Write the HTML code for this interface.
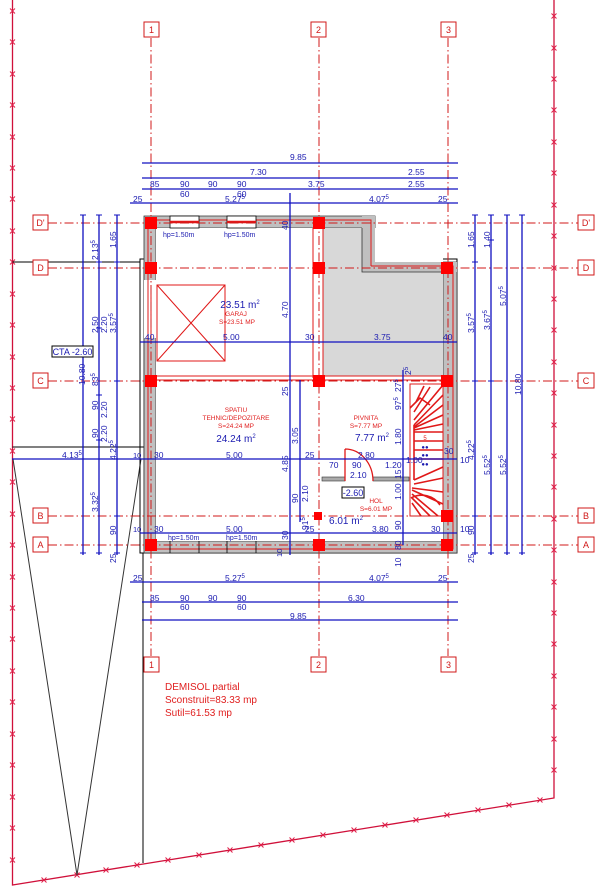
<!DOCTYPE html>
<html><head><meta charset="utf-8"><style>
html,body{margin:0;padding:0;background:#fff;}
svg{display:block;font-family:"Liberation Sans",sans-serif;}
.b{fill:#1a1ab0;font-size:8.5px;}
.bs{fill:#1a1ab0;font-size:7px;}
.r{fill:#e02020;}
.dl{stroke:#1010c0;stroke-width:1.3;fill:none;}
.g{stroke:#d01818;stroke-width:1;stroke-dasharray:9,3,1.5,3;fill:none;}
.ax{fill:#fff;stroke:#d01818;stroke-width:1;}
.axt{fill:#d01818;font-size:9px;text-anchor:middle;}
.pl{stroke:#d0103a;stroke-width:1.3;fill:none;}
.st{stroke:#e01818;stroke-width:1.6;fill:none;}
</style></head><body>
<svg width="603" height="889" viewBox="0 0 603 889">
<defs>
<g id="x"><path d="M-2.5,-2.5L2.5,2.5M2.5,-2.5L-2.5,2.5" stroke="#e0204a" stroke-width="1"/></g>
</defs>
<path class="pl" d="M12.5,0V885L554,798V0"/>
<g>
<use href="#x" x="12.5" y="11"/><use href="#x" x="12.5" y="42"/><use href="#x" x="12.5" y="74"/><use href="#x" x="12.5" y="105"/><use href="#x" x="12.5" y="137"/><use href="#x" x="12.5" y="168"/><use href="#x" x="12.5" y="199"/><use href="#x" x="12.5" y="231"/><use href="#x" x="12.5" y="262"/><use href="#x" x="12.5" y="294"/><use href="#x" x="12.5" y="325"/><use href="#x" x="12.5" y="357"/><use href="#x" x="12.5" y="388"/><use href="#x" x="12.5" y="419"/><use href="#x" x="12.5" y="451"/><use href="#x" x="12.5" y="482"/><use href="#x" x="12.5" y="514"/><use href="#x" x="12.5" y="545"/><use href="#x" x="12.5" y="577"/><use href="#x" x="12.5" y="608"/><use href="#x" x="12.5" y="639"/><use href="#x" x="12.5" y="671"/><use href="#x" x="12.5" y="702"/><use href="#x" x="12.5" y="734"/><use href="#x" x="12.5" y="765"/><use href="#x" x="12.5" y="797"/><use href="#x" x="12.5" y="828"/><use href="#x" x="12.5" y="860"/>
<use href="#x" x="554" y="16"/><use href="#x" x="554" y="48"/><use href="#x" x="554" y="79"/><use href="#x" x="554" y="110"/><use href="#x" x="554" y="142"/><use href="#x" x="554" y="173"/><use href="#x" x="554" y="205"/><use href="#x" x="554" y="236"/><use href="#x" x="554" y="268"/><use href="#x" x="554" y="299"/><use href="#x" x="554" y="330"/><use href="#x" x="554" y="362"/><use href="#x" x="554" y="393"/><use href="#x" x="554" y="425"/><use href="#x" x="554" y="456"/><use href="#x" x="554" y="487"/><use href="#x" x="554" y="519"/><use href="#x" x="554" y="550"/><use href="#x" x="554" y="582"/><use href="#x" x="554" y="613"/><use href="#x" x="554" y="644"/><use href="#x" x="554" y="676"/><use href="#x" x="554" y="707"/><use href="#x" x="554" y="739"/><use href="#x" x="554" y="770"/>
<use href="#x" x="44" y="880"/><use href="#x" x="77" y="875"/><use href="#x" x="106" y="870"/><use href="#x" x="137" y="865"/><use href="#x" x="168" y="860"/><use href="#x" x="199" y="855"/><use href="#x" x="230" y="850"/><use href="#x" x="261" y="845"/><use href="#x" x="292" y="840"/><use href="#x" x="323" y="835"/><use href="#x" x="354" y="830"/><use href="#x" x="385" y="825"/><use href="#x" x="416" y="820"/><use href="#x" x="447" y="815"/><use href="#x" x="478" y="810"/><use href="#x" x="509" y="805"/><use href="#x" x="540" y="800"/>
</g>
<g stroke="#000" stroke-width="1" fill="none">
<path d="M12.5,262H140M12.5,447H145V459M143,553V863"/>
<path d="M13,459L77,875L141,459" stroke="#333"/>
<rect x="140" y="259" width="317" height="294"/>
<rect x="144" y="263" width="309" height="286" stroke-width="0.7"/>
</g>
<g fill="#c0c0c0" stroke="#333" stroke-width="0.8">
<path d="M144,216H375V262H457V553H144ZM156,228V541H443V272H362V228Z" fill-rule="evenodd"/>
</g>
<rect x="156" y="228" width="287" height="313" fill="#fff"/>
<path d="M323,228H362V272H443V376H323Z" fill="#d8d8d8"/>
<rect x="362" y="216" width="13" height="56" fill="#c0c0c0"/>
<rect x="362" y="262" width="95" height="10" fill="#c0c0c0"/>
<path d="M362,228V272H443" stroke="#333" stroke-width="0.8" fill="none"/>
<rect x="144" y="280" width="12" height="58" fill="#fff"/>
<g stroke="#e01818" fill="none" stroke-width="1">
<path d="M148,220H371V266M148,220V549H453V266H371"/>
<path d="M151,285V337"/>
<path d="M313,228V378M323,228V378"/>
<path d="M156,376H443M156,380H443"/>
<rect x="157" y="285" width="68" height="76"/>
<path d="M157,285L225,361M225,285L157,361"/>
</g>
<g stroke="#000" stroke-width="0.8">
<rect x="170" y="216" width="29" height="12" fill="#fff"/>
<rect x="227" y="216" width="29" height="12" fill="#fff"/>
</g>
<path d="M170,222H199M227,222H256" stroke="#e01818" stroke-width="2.5"/>
<g stroke="#000" stroke-width="0.8"><path d="M170,541V553M199,541V553M227,541V553M256,541V553"/></g>
<rect x="322" y="477" width="23" height="4" fill="#aaa" stroke="#333" stroke-width="0.6"/>
<rect x="373" y="477" width="36" height="4" fill="#aaa" stroke="#333" stroke-width="0.6"/>
<path d="M345,449V481M373,481A28,32 0 0 0 345,449" stroke="#e01818" stroke-width="1.3" fill="none"/>
<g class="st">
<path d="M410,384H443V516H410Z" stroke-width="1"/>
<path d="M414,425V480"/>
<path d="M414,432H443M414,441H443M414,450H443M414,459H443"/>
<path d="M414,425L443,395M414,420L443,385M414,412L430,387M416,402L424,386M414,427L443,405M414,428L443,415M414,430L443,424"/>
<path d="M414,480L443,467M414,484L443,478M412,488L443,492M412,490L443,504M412,494L438,516M412,498L430,516M412,503L421,516"/>
<path d="M410,408L420,398L430,405"/>
<path d="M411,498A22,22 0 0 1 440,505"/>
</g>
<text class="r" x="425" y="440" font-size="6" text-anchor="middle">5</text>
<text x="425" y="449" font-size="6" fill="#1a1ab0" text-anchor="middle">●●</text>
<text x="425" y="457" font-size="6" fill="#1a1ab0" text-anchor="middle">●●</text>
<text x="425" y="466" font-size="6" fill="#1a1ab0" text-anchor="middle">●●</text>
<g class="g">
<path d="M151,38V656M319,38V656M448,38V656"/>
<path d="M48,223H578M48,268H578M48,381H578M48,516H578M48,545H578"/>
</g>
<g>
<rect class="ax" x="144" y="22" width="15" height="15"/><text class="axt" x="151.5" y="33">1</text>
<rect class="ax" x="311" y="22" width="15" height="15"/><text class="axt" x="318.5" y="33">2</text>
<rect class="ax" x="441" y="22" width="15" height="15"/><text class="axt" x="448.5" y="33">3</text>
<rect class="ax" x="144" y="657" width="15" height="15"/><text class="axt" x="151.5" y="668">1</text>
<rect class="ax" x="311" y="657" width="15" height="15"/><text class="axt" x="318.5" y="668">2</text>
<rect class="ax" x="441" y="657" width="15" height="15"/><text class="axt" x="448.5" y="668">3</text>
<rect class="ax" x="33" y="215" width="15" height="15"/><text class="axt" x="40.5" y="226">D'</text>
<rect class="ax" x="33" y="260" width="15" height="15"/><text class="axt" x="40.5" y="271">D</text>
<rect class="ax" x="33" y="373" width="15" height="15"/><text class="axt" x="40.5" y="384">C</text>
<rect class="ax" x="33" y="508" width="15" height="15"/><text class="axt" x="40.5" y="519">B</text>
<rect class="ax" x="33" y="537" width="15" height="15"/><text class="axt" x="40.5" y="548">A</text>
<rect class="ax" x="578" y="215" width="16" height="15"/><text class="axt" x="586" y="226">D'</text>
<rect class="ax" x="578" y="260" width="16" height="15"/><text class="axt" x="586" y="271">D</text>
<rect class="ax" x="578" y="373" width="16" height="15"/><text class="axt" x="586" y="384">C</text>
<rect class="ax" x="578" y="508" width="16" height="15"/><text class="axt" x="586" y="519">B</text>
<rect class="ax" x="578" y="537" width="16" height="15"/><text class="axt" x="586" y="548">A</text>
</g>
<g fill="#ff0000">
<rect x="145" y="217" width="12" height="12"/><rect x="313" y="217" width="12" height="12"/>
<rect x="145" y="262" width="12" height="12"/><rect x="313" y="262" width="12" height="12"/><rect x="441" y="262" width="12" height="12"/>
<rect x="145" y="375" width="12" height="12"/><rect x="313" y="375" width="12" height="12"/><rect x="441" y="375" width="12" height="12"/>
<rect x="441" y="510" width="12" height="12"/><rect x="314" y="512" width="8" height="8"/>
<rect x="145" y="539" width="12" height="12"/><rect x="313" y="539" width="12" height="12"/><rect x="441" y="539" width="12" height="12"/>
</g>
<g class="dl">
<path d="M142,163H458M142,178H458M142,189H458M130,203H458"/>
<path d="M130,582H458M142,602H458M142,620H458"/>
<path d="M140,342H457M12,459H457M140,533H457"/>
<path d="M83,215V555M99,215V555M117,215V555"/>
<path d="M475,215V555M491,215V555M507,215V555M522,215V555"/>
<path d="M290,193V555M300,380V522M403,370V545"/>
</g>
<g stroke="#1010c0" stroke-width="1">
<path d="M80,215H86M80,553H86M96,215H102M96,262H102M96,328H102M96,395H102M96,440H102M96,553H102M114,215H120M114,262H120M114,381H120M114,516H120M114,553H120"/>
<path d="M472,215H478M472,262H478M472,381H478M472,516H478M472,553H478M488,215H494M488,240H494M488,381H494M488,553H494M504,215H510M504,553H510M519,215H525M519,553H525"/>
</g>
<g class="b">
<text x="290" y="160">9.85</text>
<text x="250" y="175">7.30</text><text x="408" y="175">2.55</text>
<text x="150" y="187">85</text><text x="180" y="187">90</text><text x="208" y="187">90</text><text x="237" y="187">90</text>
<text x="180" y="197">60</text><text x="237" y="197">60</text>
<text x="308" y="187">3.75</text><text x="408" y="187">2.55</text>
<text x="133" y="202">25</text><text x="225" y="202">5.27<tspan font-size="6" dy="-3">5</tspan></text><text x="369" y="202">4.07<tspan font-size="6" dy="-3">5</tspan></text><text x="438" y="202">25</text>
<text x="133" y="581">25</text><text x="225" y="581">5.27<tspan font-size="6" dy="-3">5</tspan></text><text x="369" y="581">4.07<tspan font-size="6" dy="-3">5</tspan></text><text x="438" y="581">25</text>
<text x="150" y="601">85</text><text x="180" y="601">90</text><text x="208" y="601">90</text><text x="237" y="601">90</text><text x="348" y="601">6.30</text>
<text x="180" y="610">60</text><text x="237" y="610">60</text>
<text x="290" y="619">9.85</text>
<text x="145" y="340">40</text><text x="223" y="340">5.00</text><text x="305" y="340">30</text><text x="374" y="340">3.75</text><text x="443" y="340">40</text>
<text x="62" y="458">4.13<tspan font-size="6" dy="-3">5</tspan></text>
<text x="133" y="458" font-size="7.5">10</text><text x="154" y="458">30</text><text x="226" y="458">5.00</text><text x="305" y="458">25</text>
<text x="358" y="458">2.80</text><text x="406" y="463">1.00</text><text x="444" y="454">30</text><text x="460" y="463">10</text>
<text x="329" y="468">70</text><text x="352" y="468">90</text><text x="385" y="468">1.20</text><text x="350" y="478">2.10</text>
<text x="133" y="532" font-size="7.5">10</text><text x="154" y="532">30</text><text x="226" y="532">5.00</text><text x="305" y="532">25</text><text x="372" y="532">3.80</text><text x="431" y="532">30</text><text x="460" y="532">10</text>
</g>
<g class="bs">
<text x="163" y="237">hp=1.50m</text><text x="224" y="237">hp=1.50m</text>
<text x="168" y="540">hp=1.50m</text><text x="226" y="540">hp=1.50m</text>
</g>
<g class="b">
<text transform="translate(85,385) rotate(-90)">10.80</text>
<text transform="translate(98,260) rotate(-90)">2.13<tspan font-size="6" dy="-3">5</tspan></text>
<text transform="translate(98,333) rotate(-90)">2.50</text><text transform="translate(107,333) rotate(-90)">2.20</text>
<text transform="translate(98,386) rotate(-90)">83<tspan font-size="6" dy="-3">5</tspan></text>
<text transform="translate(98,410) rotate(-90)">90</text><text transform="translate(107,418) rotate(-90)">2.20</text>
<text transform="translate(98,438) rotate(-90)">90</text><text transform="translate(107,442) rotate(-90)">2.20</text>
<text transform="translate(98,512) rotate(-90)">3.32<tspan font-size="6" dy="-3">5</tspan></text>
<text transform="translate(116,248) rotate(-90)">1.65</text>
<text transform="translate(116,333) rotate(-90)">3.57<tspan font-size="6" dy="-3">5</tspan></text>
<text transform="translate(116,460) rotate(-90)">4.22<tspan font-size="6" dy="-3">5</tspan></text>
<text transform="translate(116,535) rotate(-90)">90</text><text transform="translate(116,563) rotate(-90)">25</text>
<text transform="translate(474,248) rotate(-90)">1.65</text>
<text transform="translate(474,333) rotate(-90)">3.57<tspan font-size="6" dy="-3">5</tspan></text>
<text transform="translate(474,460) rotate(-90)">4.22<tspan font-size="6" dy="-3">5</tspan></text>
<text transform="translate(474,535) rotate(-90)">90</text><text transform="translate(474,563) rotate(-90)">25</text>
<text transform="translate(490,248) rotate(-90)">1.40</text>
<text transform="translate(490,330) rotate(-90)">3.67<tspan font-size="6" dy="-3">5</tspan></text>
<text transform="translate(490,475) rotate(-90)">5.52<tspan font-size="6" dy="-3">5</tspan></text>
<text transform="translate(506,306) rotate(-90)">5.07<tspan font-size="6" dy="-3">5</tspan></text>
<text transform="translate(506,475) rotate(-90)">5.52<tspan font-size="6" dy="-3">5</tspan></text>
<text transform="translate(521,395) rotate(-90)">10.80</text>
<text transform="translate(288,230) rotate(-90)">40</text>
<text transform="translate(288,318) rotate(-90)">4.70</text>
<text transform="translate(288,396) rotate(-90)">25</text>
<text transform="translate(288,472) rotate(-90)">4.85</text>
<text transform="translate(288,540) rotate(-90)">30</text>
<text transform="translate(282,557) rotate(-90)" font-size="7.5">10</text>
<text transform="translate(298,444) rotate(-90)">3.05</text>
<text transform="translate(298,503) rotate(-90)">90</text><text transform="translate(308,502) rotate(-90)">2.10</text>
<text transform="translate(308,530) rotate(-90)">91<tspan font-size="6" dy="-3">5</tspan></text>
<text transform="translate(401,392) rotate(-90)">27<tspan font-size="6" dy="-3">5</tspan></text>
<text transform="translate(411,375) rotate(-90)">2<tspan font-size="6" dy="-3">5</tspan></text>
<text transform="translate(401,410) rotate(-90)">97<tspan font-size="6" dy="-3">5</tspan></text>
<text transform="translate(401,445) rotate(-90)">1.80</text>
<text transform="translate(401,479) rotate(-90)">15</text>
<text transform="translate(401,500) rotate(-90)">1.00</text>
<text transform="translate(401,530) rotate(-90)">90</text>
<text transform="translate(401,550) rotate(-90)">80</text>
<text transform="translate(401,567) rotate(-90)">10</text>
</g>
<g class="b" text-anchor="middle">
<text x="240" y="308" font-size="10">23.51 m<tspan font-size="6" dy="-4">2</tspan></text>
<text x="236" y="442" font-size="10">24.24 m<tspan font-size="6" dy="-4">2</tspan></text>
<text x="372" y="441" font-size="10">7.77 m<tspan font-size="6" dy="-4">2</tspan></text>
<text x="346" y="524" font-size="10">6.01 m<tspan font-size="6" dy="-4">2</tspan></text>
</g>
<g class="r" font-size="6.5" text-anchor="middle">
<text x="236" y="316">GARAJ</text><text x="237" y="324">S=23.51 MP</text>
<text x="236" y="412">SPATIU</text><text x="236" y="420">TEHNIC/DEPOZITARE</text><text x="236" y="428">S=24.24 MP</text>
<text x="366" y="420">PIVNITA</text><text x="366" y="428">S=7.77 MP</text>
<text x="376" y="503">HOL</text><text x="376" y="511">S=6.01 MP</text>
</g>
<rect x="342" y="487" width="22" height="11" fill="#fff" stroke="#000" stroke-width="1"/>
<text x="353" y="496" font-size="9" fill="#1a1ab0" text-anchor="middle">-2.60</text>
<rect x="52" y="346" width="41" height="11" fill="#fff" stroke="#000" stroke-width="1"/>
<text x="72.5" y="355" font-size="9" fill="#1a1ab0" text-anchor="middle">CTA -2.60</text>
<g class="r" font-size="10">
<text x="165" y="690">DEMISOL partial</text>
<text x="165" y="703">Sconstruit=83.33 mp</text>
<text x="165" y="716">Sutil=61.53 mp</text>
</g>
</svg>
</body></html>
